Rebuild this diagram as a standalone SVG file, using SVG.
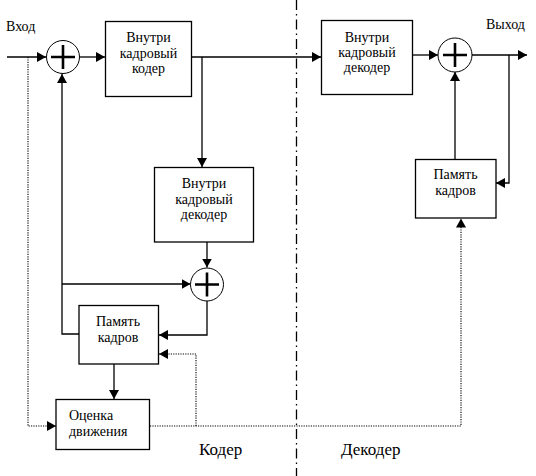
<svg xmlns="http://www.w3.org/2000/svg" width="536" height="476" viewBox="0 0 536 476">
<style>
.box{fill:#fff;stroke:#000;stroke-width:1.3}
.sum{fill:#fff;stroke:#000;stroke-width:1}
.plus{stroke:#000;stroke-width:2.6;fill:none}
.t{text-anchor:middle}
.w{fill:none;stroke:#000;stroke-width:1.3}
.d{fill:none;stroke:#000;stroke-width:1.1;stroke-dasharray:1.2 1.2}
.dd{fill:none;stroke:#000;stroke-width:1.3;stroke-dasharray:10 4 1.5 4}
</style>
<defs>
<marker id="a" markerUnits="userSpaceOnUse" markerWidth="10" markerHeight="10" refX="9" refY="5" orient="auto" viewBox="0 0 10 10">
<path d="M0,0 L9,5 L0,10 z" fill="#000"/>
</marker>
</defs>
<rect width="536" height="476" fill="#fff"/>

<g id="connectors">
<line class="dd" x1="296.5" y1="0" x2="296.5" y2="476"/>
<path class="w" d="M7,57 H46" marker-end="url(#a)"/>
<path class="w" d="M80,57 H105" marker-end="url(#a)"/>
<path class="w" d="M192,57 H321" marker-end="url(#a)"/>
<path class="w" d="M202,57 V167" marker-end="url(#a)"/>
<path class="w" d="M207,242 V267.5" marker-end="url(#a)"/>
<path class="w" d="M79,334 H62 V74" marker-end="url(#a)"/>
<path class="w" d="M62,284 H190.5" marker-end="url(#a)"/>
<path class="w" d="M207,301 V335 H159" marker-end="url(#a)"/>
<path class="w" d="M114,364 V399" marker-end="url(#a)"/>
<path class="d" d="M28,57 V426 H56" marker-end="url(#a)"/>
<path class="d" d="M150,426 H461 V218.5" marker-end="url(#a)"/>
<path class="d" d="M196,426 V354 H159" marker-end="url(#a)"/>
<path class="w" d="M412,55 H438" marker-end="url(#a)"/>
<path class="w" d="M472,55 H527" marker-end="url(#a)"/>
<path class="w" d="M509,55 V183 H496" marker-end="url(#a)"/>
<path class="w" d="M455,159 V72" marker-end="url(#a)"/>
</g>

<g id="sum1">
<circle class="sum" cx="63" cy="57" r="16.5"/>
<path class="plus" d="M51,57 H75 M63,45 V69"/>
</g>
<g id="coder">
<rect class="box" x="105.5" y="21.5" width="86" height="75"/>
<text class="t" x="148.5" y="42" font-family="Liberation Serif" font-size="14">Внутри</text>
<text class="t" x="148.5" y="57.5" font-family="Liberation Serif" font-size="14">кадровый</text>
<text class="t" x="148.5" y="73" font-family="Liberation Serif" font-size="14">кодер</text>
</g>
<g id="decoder-local">
<rect class="box" x="154.5" y="167.5" width="99" height="74.5"/>
<text class="t" x="204" y="188" font-family="Liberation Serif" font-size="14">Внутри</text>
<text class="t" x="204" y="203.5" font-family="Liberation Serif" font-size="14">кадровый</text>
<text class="t" x="204" y="219" font-family="Liberation Serif" font-size="14">декодер</text>
</g>
<g id="sum2">
<circle class="sum" cx="207" cy="284.5" r="16.5"/>
<path class="plus" d="M195,284.5 H219 M207,272.5 V296.5"/>
</g>
<g id="memory-coder">
<rect class="box" x="79" y="305.5" width="79.5" height="58.5"/>
<text class="t" x="118" y="326" font-family="Liberation Serif" font-size="14">Память</text>
<text class="t" x="118" y="342" font-family="Liberation Serif" font-size="14">кадров</text>
</g>
<g id="motion">
<rect class="box" x="56" y="399.5" width="93.5" height="50"/>
<text x="69" y="419.5" font-family="Liberation Serif" font-size="14">Оценка</text>
<text x="69" y="435.5" font-family="Liberation Serif" font-size="14">движения</text>
</g>
<g id="decoder">
<rect class="box" x="321.5" y="20.5" width="91" height="74"/>
<text class="t" x="367" y="41.5" font-family="Liberation Serif" font-size="14">Внутри</text>
<text class="t" x="367" y="56.5" font-family="Liberation Serif" font-size="14">кадровый</text>
<text class="t" x="367" y="72" font-family="Liberation Serif" font-size="14">декодер</text>
</g>
<g id="sum3">
<circle class="sum" cx="455" cy="55" r="17"/>
<path class="plus" d="M443,55 H467 M455,43 V67"/>
</g>
<g id="memory-decoder">
<rect class="box" x="415.5" y="159.5" width="80.5" height="58.5"/>
<text class="t" x="455.5" y="178.5" font-family="Liberation Serif" font-size="14">Память</text>
<text class="t" x="455.5" y="194.5" font-family="Liberation Serif" font-size="14">кадров</text>
</g>
<g id="labels">
<text x="6" y="31" font-family="Liberation Serif" font-size="14">Вход</text>
<text x="486" y="28.5" font-family="Liberation Serif" font-size="14">Выход</text>
<text x="199" y="455" font-family="Liberation Serif" font-size="17">Кодер</text>
<text x="341" y="455" font-family="Liberation Serif" font-size="17">Декодер</text>
</g>
</svg>
